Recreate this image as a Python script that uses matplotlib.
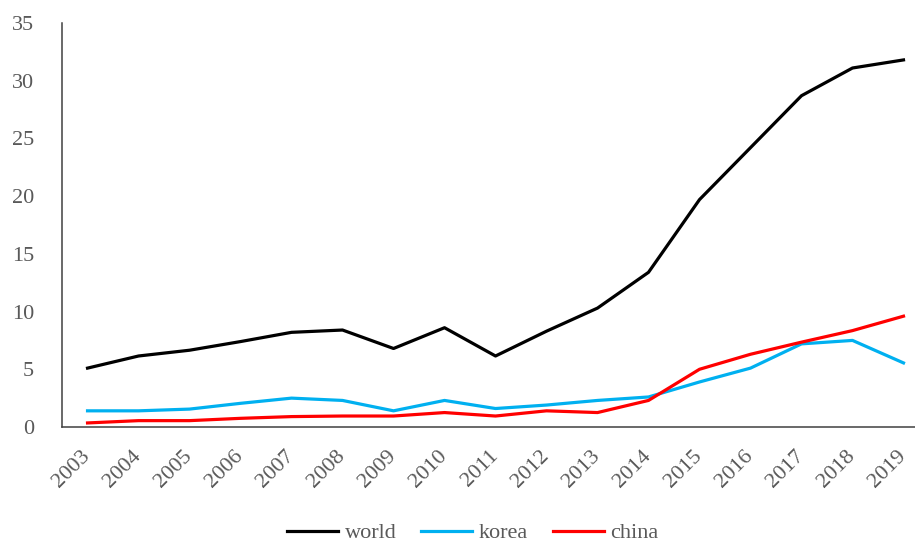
import matplotlib
matplotlib.use("Agg")
import matplotlib.pyplot as plt

# data series (share of total, %)
years = ["2003", "2004", "2005", "2006", "2007", "2008", "2009", "2010", "2011",
         "2012", "2013", "2014", "2015", "2016", "2017", "2018", "2019"]
world = [5.1, 6.15, 6.65, 7.4, 8.2, 8.4, 6.8, 8.6, 6.15,
         8.3, 10.3, 13.4, 19.7, 24.2, 28.7, 31.1, 31.8]
korea = [1.4, 1.4, 1.55, 2.05, 2.5, 2.3, 1.4, 2.3, 1.6,
         1.9, 2.3, 2.6, 3.9, 5.1, 7.2, 7.5, 5.55]
china = [0.35, 0.55, 0.55, 0.75, 0.9, 0.95, 0.95, 1.25, 0.95,
         1.4, 1.25, 2.3, 5.0, 6.3, 7.35, 8.35, 9.6]
yticks = [0, 5, 10, 15, 20, 25, 30, 35]

plt.rcParams['font.family'] = ['Liberation Serif', 'DejaVu Serif']
txt_color = '#595959'

fig = plt.figure(figsize=(9.15, 5.42), dpi=100)
ax = fig.add_axes([0.0678, 0.2122, 0.9475, 0.7454])

x = list(range(len(years)))
ax.plot(x, world, color='black', lw=2.3, label='world', solid_joinstyle='round')
ax.plot(x, korea, color='#00B0F0', lw=2.3, label='korea', solid_joinstyle='round')
ax.plot(x, china, color='#FF0000', lw=2.3, label='china', solid_joinstyle='round')

ax.set_xlim(-0.5, len(years) - 0.5)
ax.set_ylim(0, 35)
ax.set_yticks(yticks)
ax.set_xticks(x)

ax.tick_params(axis='x', length=0, pad=19, labelsize=16, labelcolor=txt_color)
ax.tick_params(axis='y', length=0, pad=20, labelsize=16, labelcolor=txt_color)

# slanted year labels, right end anchored under each category
ax.set_xticklabels(years, rotation=45, ha='right', va='center',
                   rotation_mode='anchor')

for side in ['top', 'right']:
    ax.spines[side].set_visible(False)
for side in ['left', 'bottom']:
    ax.spines[side].set_color('#404040')
    ax.spines[side].set_linewidth(1.1)

leg = fig.legend(loc='center', bbox_to_anchor=(473 / 915, 1 - 533 / 542), ncol=3,
                 frameon=False, fontsize=16, handlelength=2.3, handletextpad=0.3,
                 columnspacing=1.1, borderpad=0)
for t in leg.get_texts():
    t.set_color(txt_color)

fig.savefig('out.png', dpi=100)
